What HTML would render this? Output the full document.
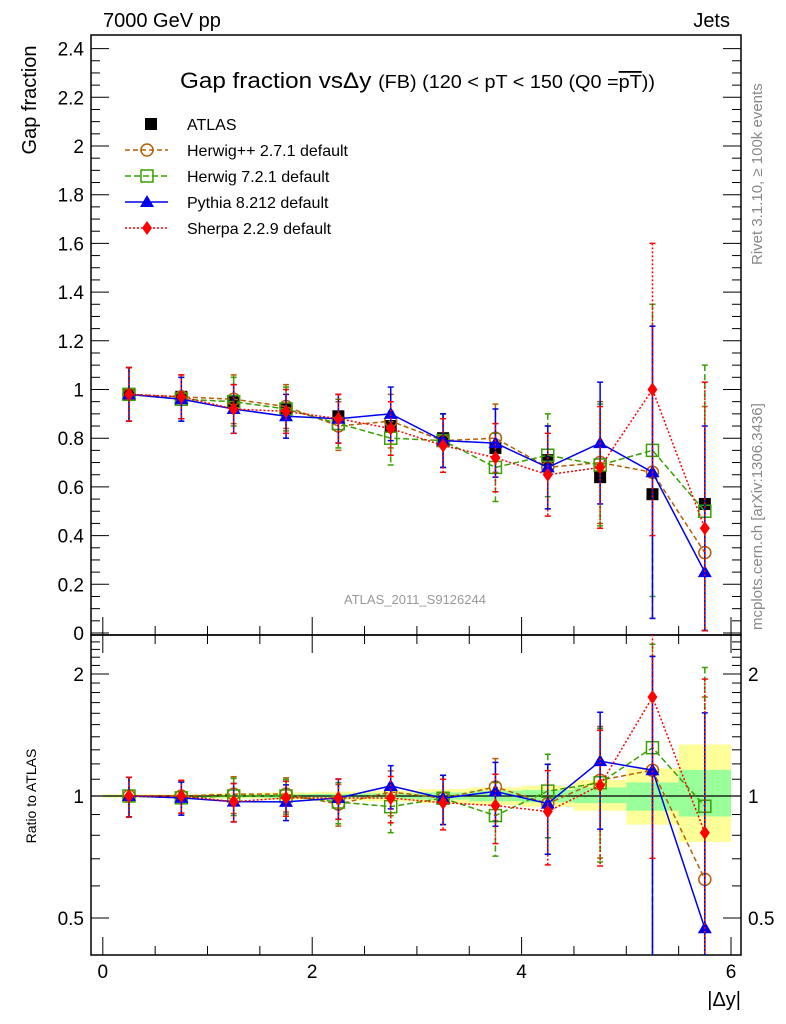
<!DOCTYPE html>
<html><head><meta charset="utf-8">
<style>
html,body{margin:0;background:#fff;overflow:hidden;width:786px;height:1024px;}
svg{display:block;font-family:"Liberation Sans",sans-serif;}
</style></head>
<body>
<svg id="chart" width="786" height="1024" viewBox="0 0 786 1024" xmlns="http://www.w3.org/2000/svg">
<text x="103" y="27" font-size="20">7000 GeV pp</text>
<text x="730" y="27" font-size="20" text-anchor="end">Jets</text>
<text transform="translate(36,100) rotate(-90)" font-size="20" text-anchor="middle">Gap fraction</text>
<text transform="translate(36,796) rotate(-90)" font-size="14" text-anchor="middle">Ratio to ATLAS</text>
<text x="741" y="1006" font-size="20" text-anchor="end">|Δy|</text>
<text transform="translate(762,265) rotate(-90)" font-size="15" fill="#888">Rivet 3.1.10, ≥ 100k events</text>
<text transform="translate(762,630) rotate(-90)" font-size="15" fill="#888">mcplots.cern.ch [arXiv:1306.3436]</text>
<text x="415" y="604" font-size="13" fill="#999" text-anchor="middle">ATLAS_2011_S9126244</text>
<text x="180" y="88" font-size="22" textLength="475" lengthAdjust="spacingAndGlyphs">Gap fraction vsΔy <tspan font-size="18">(FB) (120 &lt; pT &lt; 150 (Q0 =<tspan text-decoration="overline">pT</tspan>))</tspan></text>
<g id="legend"></g>
<g id="bands"></g>
<g id="frames"></g>
<g id="plot"></g>
</svg>
<script>
const xBins=[0.25,0.75,1.25,1.75,2.25,2.75,3.25,3.75,4.25,4.75,5.25,5.75];
const atlas=[0.98,0.97,0.95,0.92,0.89,0.85,0.80,0.76,0.71,0.64,0.57,0.53];
const herwigpp=[0.98,0.97,0.96,0.93,0.85,0.87,0.79,0.80,0.68,0.70,0.66,0.33];
const herwig7=[0.98,0.96,0.95,0.92,0.86,0.80,0.79,0.68,0.73,0.69,0.75,0.50];
const pythia=[0.98,0.96,0.92,0.89,0.88,0.90,0.79,0.78,0.68,0.78,0.66,0.25];
const sherpa=[0.98,0.97,0.92,0.91,0.88,0.84,0.77,0.72,0.65,0.68,1.00,0.43];
const mcErr=[0.11,0.09,0.10,0.09,0.10,0.11,0.11,0.14,0.17,0.25,0.60,0.60];
const bandTotUp=[0.01,0.01,0.015,0.02,0.025,0.03,0.04,0.05,0.06,0.095,0.17,0.34];
const bandTotDn=[0.01,0.01,0.015,0.02,0.025,0.03,0.04,0.05,0.06,0.08,0.15,0.23];
const bandStatUp=[0.005,0.006,0.008,0.01,0.012,0.015,0.02,0.03,0.035,0.05,0.08,0.16];
const bandStatDn=[0.005,0.006,0.008,0.01,0.012,0.015,0.02,0.03,0.035,0.04,0.08,0.11];
const mainTicks=[0,0.2,0.4,0.6,0.8,1,1.2,1.4,1.6,1.8,2,2.2,2.4];
const mainTickLabels=["0","0.2","0.4","0.6","0.8","1","1.2","1.4","1.6","1.8","2","2.2","2.4"];
const xTicks=[0,2,4,6];
const ratioTicks=[0.5,1,2];

const NS="http://www.w3.org/2000/svg";
const L=91,R=741,T=35,M=635,B=955;
const X=v=>102.8+104.7*v;
const Y=v=>633-243.5*v;
const YR=r=>796-122*Math.log2(r);
function el(tag,attrs,parent){const e=document.createElementNS(NS,tag);for(const k in attrs)e.setAttribute(k,attrs[k]);(parent||document.getElementById('plot')).appendChild(e);return e;}
const frames=document.getElementById('frames');
const bands=document.getElementById('bands');

xBins.forEach((x,i)=>{
  let r=el('rect',{x:X(x-0.25),y:YR(1+bandTotUp[i]),width:X(0.5)-X(0),height:YR(1-bandTotDn[i])-YR(1+bandTotUp[i]),fill:'#ffff99'},bands);
  
  
  let g=el('rect',{x:X(x-0.25),y:YR(1+bandStatUp[i]),width:X(0.5)-X(0),height:YR(1-bandStatDn[i])-YR(1+bandStatUp[i]),fill:'#99ff99'},bands);
  
  
});
el('line',{x1:L,x2:R,y1:YR(1),y2:YR(1),stroke:'#000','stroke-width':1.2},bands);

let f1=el('rect',{x:L,y:T,width:R-L,height:M-T,fill:'none',stroke:'#000','stroke-width':1.5},frames);


let f2=el('rect',{x:L,y:M,width:R-L,height:B-M,fill:'none',stroke:'#000','stroke-width':1.5},frames);


for(let k=0;k<=48;k++){const v=k*0.05;const y=Y(v);if(y<T)continue;const maj=k%4==0;const len=maj?18:9;
  el('line',{x1:L,x2:L+len,y1:y,y2:y,stroke:'#000','stroke-width':1},frames);
  el('line',{x1:R,x2:R-len,y1:y,y2:y,stroke:'#000','stroke-width':1},frames);}
mainTicks.forEach((v,i)=>{const t=el('text',{x:L-7,y:Y(v)+7,'font-size':19,'text-anchor':'end'},frames);t.textContent=mainTickLabels[i];
  
  });
for(let k=0;k<=12;k++){const v=k*0.5;const x=X(v);const maj=k%4==0;const len=maj?18:9;
  el('line',{x1:x,x2:x,y1:M,y2:M-len,stroke:'#000'},frames);
  el('line',{x1:x,x2:x,y1:B,y2:B-len,stroke:'#000'},frames);
  el('line',{x1:x,x2:x,y1:M,y2:M+len,stroke:'#000'},frames);}
xTicks.forEach(v=>{const t=el('text',{x:X(v),y:978,'font-size':19,'text-anchor':'middle'},frames);t.textContent=v;
  
  });
for(let r=0.5;r<=2.5;r+=0.1){const y=YR(r);if(y<M||y>B)continue;const maj=[0.5,1,2].some(m=>Math.abs(m-r)<1e-6);const len=maj?18:9;
  el('line',{x1:L,x2:L+len,y1:y,y2:y,stroke:'#000'},frames);el('line',{x1:R,x2:R-len,y1:y,y2:y,stroke:'#000'},frames);}
ratioTicks.forEach(v=>{const a=el('text',{x:L-7,y:YR(v)+7,'font-size':19,'text-anchor':'end'},frames);a.textContent=v;
  
  
  const b=el('text',{x:R+7,y:YR(v)+7,'font-size':19},frames);b.textContent=v;
  
  });

const defs=el('defs',{},document.getElementById('chart'));
const c1=el('clipPath',{id:'cm'},defs);el('rect',{x:L,y:T,width:R-L,height:M-T},c1);
const c2=el('clipPath',{id:'cr'},defs);el('rect',{x:L,y:M,width:R-L,height:B-M},c2);

function marker(g,type,x,y,color){
  if(type=='sq')return el('rect',{x:x-6,y:y-6,width:12,height:12,fill:'#000'},g);
  if(type=='circ')return el('circle',{cx:x,cy:y,r:6,fill:'none',stroke:color,'stroke-width':1.5},g);
  if(type=='osq')return el('rect',{x:x-6,y:y-6,width:12,height:12,fill:'none',stroke:color,'stroke-width':1.5},g);
  if(type=='tri')return el('polygon',{points:`${x},${y-7} ${x-7},${y+5} ${x+7},${y+5}`,fill:color},g);
  if(type=='dia')return el('polygon',{points:`${x},${y-7} ${x+5},${y} ${x},${y+7} ${x-5},${y}`,fill:color},g);
}
const series=[
 {name:'herwigpp',vals:herwigpp,color:'#b45f06',dash:'5,3',m:'circ'},
 {name:'herwig7',vals:herwig7,color:'#38a000',dash:'6,3',m:'osq'},
 {name:'pythia',vals:pythia,color:'#0000ee',dash:'',m:'tri'},
 {name:'sherpa',vals:sherpa,color:'#ff0000',dash:'2,2',m:'dia'}];
const plot=document.getElementById('plot');
const ga=el('g',{'clip-path':'url(#cm)'},plot);


atlas.forEach((v,i)=>marker(ga,'sq',X(xBins[i]),Y(v)));
series.forEach(s=>{
  ['cm','cr'].forEach(cp=>{
    const Yf=cp=='cm'?Y:YR;
    const g=el('g',{'clip-path':`url(#${cp})`},plot);
    
    
    const vals=s.vals.map((v,i)=>cp=='cm'?v:v/atlas[i]);
    const errs=s.vals.map((v,i)=>cp=='cm'?mcErr[i]:mcErr[i]/atlas[i]);
    const pts=vals.map((v,i)=>`${X(xBins[i])},${Yf(Math.max(v,0.01))}`).join(' ');
    el('polyline',{points:pts,fill:'none',stroke:s.color,'stroke-width':1.5,'stroke-dasharray':s.dash},g);
    vals.forEach((v,i)=>{const x=X(xBins[i]);const y1=Yf(v+errs[i]);const y2=Yf(Math.max(v-errs[i],0.01));
      el('line',{x1:x,x2:x,y1:y1,y2:y2,stroke:s.color,'stroke-width':1.5,'stroke-dasharray':s.dash},g);
      el('line',{x1:x-3,x2:x+3,y1:y1,y2:y1,stroke:s.color,'stroke-width':1.5},g);
      el('line',{x1:x-3,x2:x+3,y1:y2,y2:y2,stroke:s.color,'stroke-width':1.5},g);
      const mk=marker(g,s.m,x,Yf(v),s.color);
      
      });
  });
});
const lg=document.getElementById('legend');
const labels=['ATLAS','Herwig++ 2.7.1 default','Herwig 7.2.1 default','Pythia 8.212 default','Sherpa 2.2.9 default'];
labels.forEach((t,i)=>{const y=124+i*26;
  if(i==0){marker(lg,'sq',151,y);}else{const s=series[i-1];
    el('line',{x1:125,x2:168,y1:y,y2:y,stroke:s.color,'stroke-width':1.5,'stroke-dasharray':s.dash},lg);marker(lg,s.m,147,y,s.color);}
  const tx=el('text',{x:187,y:y+6,'font-size':16},lg);tx.textContent=t;
  
  });
</script>
</body></html>
